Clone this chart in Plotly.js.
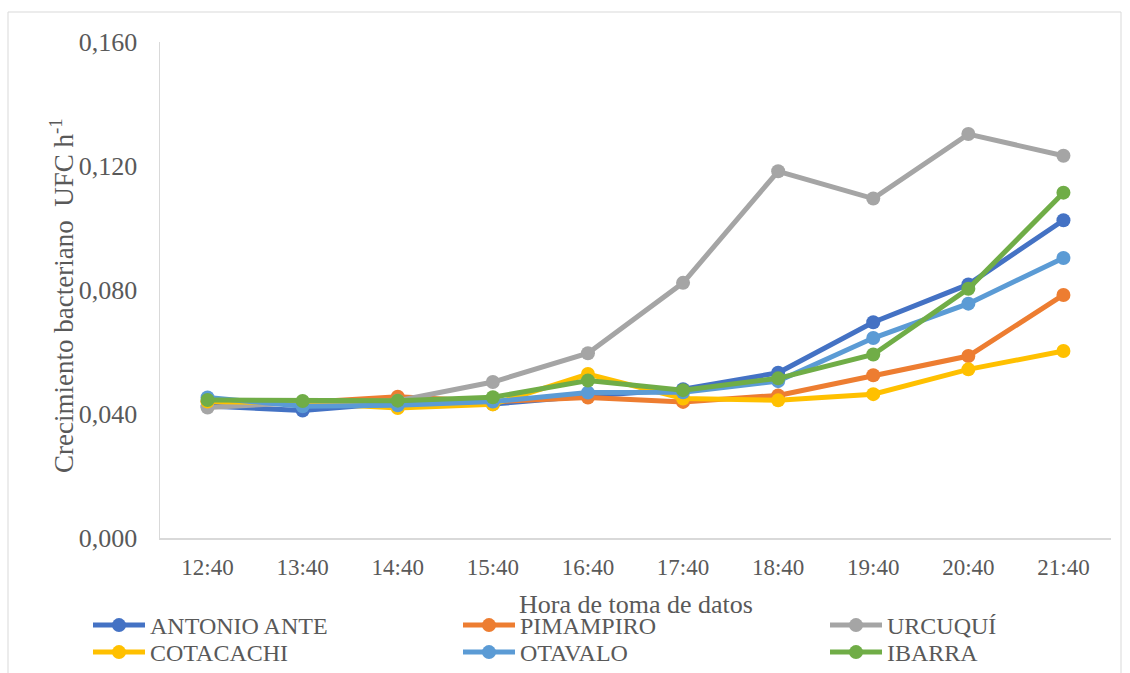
<!DOCTYPE html>
<html>
<head>
<meta charset="utf-8">
<script src="https://cdn.plot.ly/plotly-3.0.1.min.js"></script>
<style>
  html, body { margin: 0; padding: 0; background: #ffffff; }
  #chart { width: 1130px; height: 673px; }
</style>
</head>
<body>
<div id="chart"></div>
<script>
const hours = ["12:40", "13:40", "14:40", "15:40", "16:40", "17:40", "18:40", "19:40", "20:40", "21:40"];

const antonioAnte = [0.0426, 0.0411, 0.0436, 0.0432, 0.0458, 0.0480, 0.0533, 0.0696, 0.0818, 0.1025];
const pimampiro   = [0.0440, 0.0437, 0.0456, 0.0440, 0.0453, 0.0439, 0.0460, 0.0525, 0.0587, 0.0784];
const urcuqui     = [0.0421, 0.0437, 0.0443, 0.0503, 0.0596, 0.0823, 0.1183, 0.1095, 0.1303, 0.1233];
const cotacachi   = [0.0440, 0.0436, 0.0419, 0.0431, 0.0529, 0.0450, 0.0444, 0.0464, 0.0544, 0.0603];
const otavalo     = [0.0453, 0.0425, 0.0428, 0.0440, 0.0469, 0.0470, 0.0506, 0.0645, 0.0756, 0.0903];
const ibarra      = [0.0445, 0.0442, 0.0443, 0.0454, 0.0508, 0.0477, 0.0515, 0.0592, 0.0804, 0.1114];

const seriesNames = ["ANTONIO ANTE", "PIMAMPIRO", "URCUQUÍ", "COTACACHI", "OTAVALO", "IBARRA"];
const seriesValues = [antonioAnte, pimampiro, urcuqui, cotacachi, otavalo, ibarra];
const seriesColors = ["#4472C4", "#ED7D31", "#A5A5A5", "#FFC000", "#5B9BD5", "#70AD47"];

const yTicks = [0, 0.04, 0.08, 0.12, 0.16];
const yTickText = ["0,000", "0,040", "0,080", "0,120", "0,160"];

const xTitle = "Hora de toma de datos";
const yTitle = "Crecimiento bacteriano  UFC h<sup>-1</sup>";

const legendIds = ["legend", "legend2", "legend3", "legend4", "legend5", "legend6"];

const traces = seriesNames.map((name, i) => ({
  type: "scatter",
  mode: "lines+markers",
  name: name,
  legend: legendIds[i],
  x: hours,
  y: seriesValues[i],
  line: { color: seriesColors[i], width: 5 },
  marker: { color: seriesColors[i], size: 14 }
}));

const font = "Liberation Serif, Times New Roman, serif";
const grey = "#595959";

// legend grid: 3 columns x 2 rows (pixel anchors of the page)
const legendCols = [88, 458, 825];
const legendRows = [603, 630];

function legendBox(i) {
  const col = i % 3, row = Math.floor(i / 3);
  return {
    orientation: "h",
    xref: "container", yref: "container",
    x: legendCols[col] / 1130, xanchor: "left",
    y: 1 - legendRows[row] / 673, yanchor: "top",
    bgcolor: "rgba(0,0,0,0)",
    borderwidth: 0,
    itemwidth: 52,
    font: { family: font, size: 24, color: grey }
  };
}

// plot area: x 160..1111, y 42..538 (px)
const layout = {
  width: 1130,
  height: 673,
  margin: { l: 160, r: 19, t: 42, b: 135 },
  paper_bgcolor: "#ffffff",
  plot_bgcolor: "#ffffff",
  font: { family: font, color: grey, size: 23 },
  showlegend: true,
  xaxis: {
    type: "category",
    range: [-0.5, 9.5],
    automargin: false,
    showgrid: false,
    zeroline: false,
    showline: true,
    linecolor: "#D9D9D9",
    linewidth: 1.5,
    ticks: "",
    tickangle: 0,
    ticklabelstandoff: 8,
    tickfont: { family: font, size: 23, color: grey }
  },
  yaxis: {
    range: [0, 0.16],
    automargin: false,
    tickvals: yTicks,
    ticktext: yTickText,
    showgrid: false,
    zeroline: false,
    showline: true,
    linecolor: "#D9D9D9",
    linewidth: 1.5,
    ticks: "",
    ticklabelstandoff: 16,
    tickfont: { family: font, size: 26, color: grey }
  },
  annotations: [{
    text: yTitle,
    xref: "paper", yref: "paper",
    x: (62 - 160) / 951, y: (538 - 296) / 496,
    xanchor: "center", yanchor: "middle",
    textangle: -90,
    showarrow: false,
    font: { family: font, size: 27, color: grey }
  }, {
    text: xTitle,
    xref: "paper", yref: "paper",
    x: 0.5, y: (538 - 604) / 496,
    xanchor: "center", yanchor: "middle",
    showarrow: false,
    font: { family: font, size: 26, color: grey }
  }],
  shapes: [{
    type: "rect",
    xref: "paper", yref: "paper",
    x0: (8 - 160) / 951, x1: (1121 - 160) / 951,
    y0: (538 - 690) / 496, y1: (538 - 12) / 496,
    line: { color: "#D9D9D9", width: 1 },
    fillcolor: "rgba(0,0,0,0)",
    layer: "below"
  }]
};
legendIds.forEach((id, i) => { layout[id] = legendBox(i); });

Plotly.newPlot("chart", traces, layout, { displayModeBar: false, staticPlot: true });
</script>
</body>
</html>
